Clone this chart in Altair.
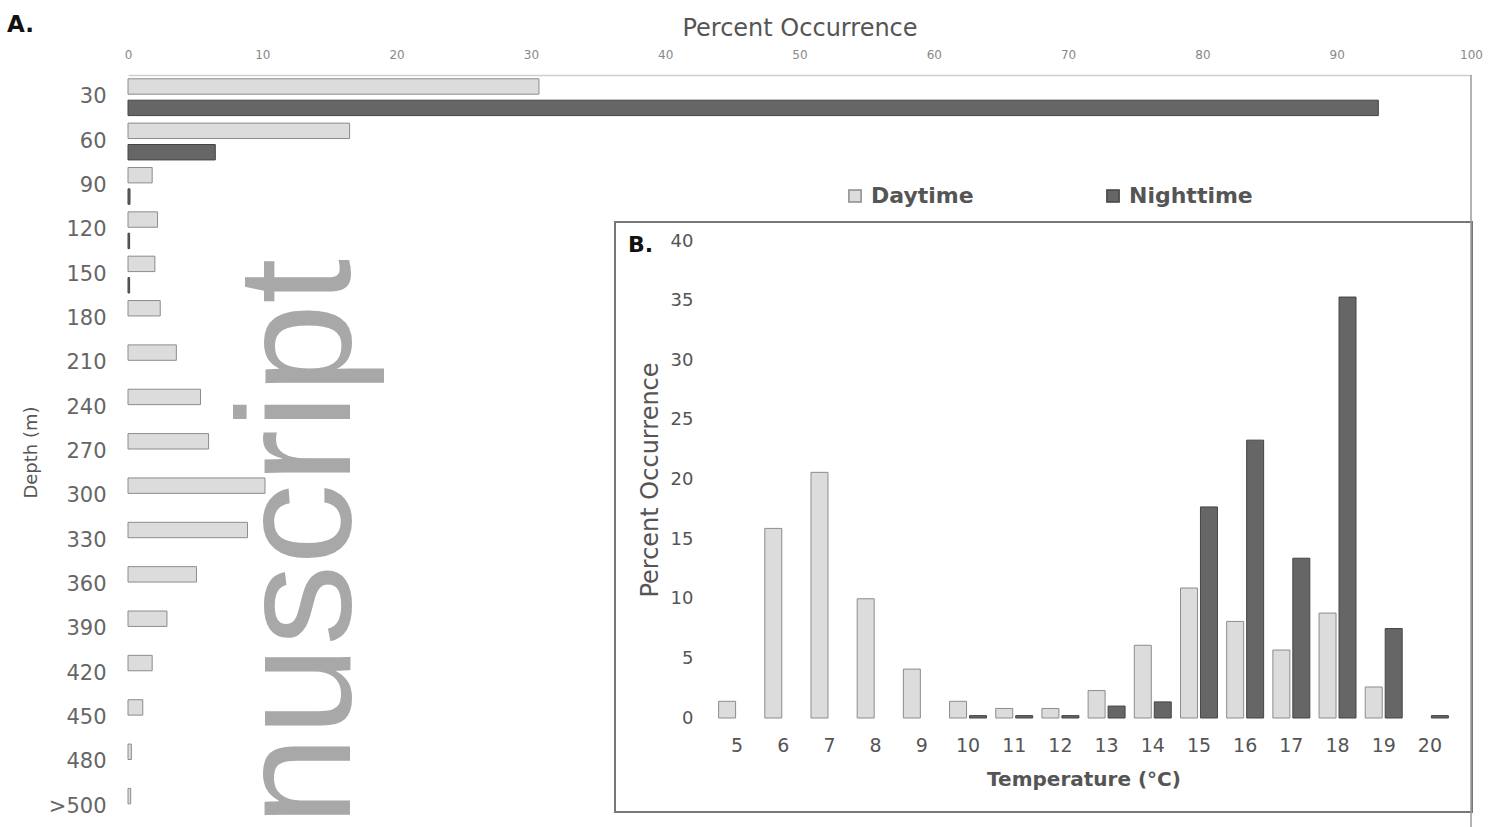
import altair as alt
import pandas as pd

# ---------------- data ----------------
series = ["Daytime", "Nighttime"]

depth_labels = ["30", "60", "90", "120", "150", "180", "210", "240", "270",
                "300", "330", "360", "390", "420", "450", "480", ">500"]
depth_day = [30.6, 16.5, 1.8, 2.2, 2.0, 2.4, 3.6, 5.4, 6.0,
             10.2, 8.9, 5.1, 2.9, 1.8, 1.1, 0.25, 0.2]
depth_night = [93.1, 6.5, 0.15, 0.12, 0.12, 0, 0, 0, 0,
               0, 0, 0, 0, 0, 0, 0, 0]

temp_labels = ["5", "6", "7", "8", "9", "10", "11", "12", "13", "14",
               "15", "16", "17", "18", "19", "20"]
temp_day = [1.4, 15.9, 20.6, 10.0, 4.1, 1.4, 0.8, 0.8, 2.3, 6.1,
            10.9, 8.1, 5.7, 8.8, 2.6, 0]
temp_night = [0, 0, 0, 0, 0, 0.2, 0.2, 0.2, 1.0, 1.35,
              17.7, 23.3, 13.4, 35.3, 7.5, 0.2]

rows_a = []
for d, v1, v2 in zip(depth_labels, depth_day, depth_night):
    rows_a.append({"depth": d, "series": "Daytime", "value": v1})
    rows_a.append({"depth": d, "series": "Nighttime", "value": v2})
df_a = pd.DataFrame(rows_a)
df_a = df_a[df_a["value"] > 0]

rows_b = []
for t, v1, v2 in zip(temp_labels, temp_day, temp_night):
    rows_b.append({"temp": t, "series": "Daytime", "value": v1})
    rows_b.append({"temp": t, "series": "Nighttime", "value": v2})
df_b = pd.DataFrame(rows_b)
df_b = df_b[df_b["value"] > 0]

FONT = "DejaVu Sans"
fill_scale = alt.Scale(domain=series, range=["#dcdcdc", "#666666"])
stroke_scale = alt.Scale(domain=series, range=["#8c8c8c", "#444444"])

# ---------------- panel A ----------------
panel_a = alt.Chart(df_a).mark_bar(strokeWidth=1).encode(
    x=alt.X("value:Q",
            scale=alt.Scale(domain=[0, 100], nice=False),
            axis=alt.Axis(orient="top", values=list(range(0, 101, 10)),
                          title="Percent Occurrence", titleFontSize=24,
                          titleFontWeight="normal", titleColor="#555",
                          titlePadding=8, labelFontSize=12, labelColor="#888",
                          labelPadding=14, ticks=False, tickSize=0,
                          domainColor="#cfcfcf", domainWidth=1.5,
                          grid=False, labelFlush=False)),
    y=alt.Y("depth:N", sort=depth_labels,
            scale=alt.Scale(range=[0, 754], paddingInner=0.17, paddingOuter=0.085),
            axis=alt.Axis(title="Depth (m)", titleFontSize=18,
                          titleFontWeight="normal", titleColor="#555",
                          titlePadding=8, labelFontSize=21, labelColor="#666",
                          labelPadding=22, ticks=False, tickSize=0,
                          domain=False, grid=False)),
    yOffset=alt.YOffset("series:N", sort=series,
                        scale=alt.Scale(paddingInner=0.28)),
    fill=alt.Fill("series:N", scale=fill_scale,
                  legend=alt.Legend(orient="none", legendX=716, legendY=110,
                                    direction="horizontal", title=None,
                                    symbolType="square", symbolSize=150,
                                    labelFontSize=22, labelFont=FONT,
                                    labelFontWeight="bold", labelColor="#555",
                                    columnPadding=128, padding=0,
                                    labelOffset=5)),
    stroke=alt.Stroke("series:N", scale=stroke_scale, legend=None),
)

# ---------------- panel B ----------------
panel_b = alt.Chart(df_b).mark_bar(strokeWidth=1).encode(
    x=alt.X("temp:N", sort=temp_labels,
            scale=alt.Scale(range=[586, 1325], paddingInner=0.2, paddingOuter=0.1),
            axis=alt.Axis(orient="bottom", offset=-109,
                          title="Temperature (°C)", titleFontSize=20,
                          titleFontWeight="bold", titleColor="#555",
                          titlePadding=14, labelFontSize=19, labelColor="#555",
                          labelPadding=18, labelAngle=0, ticks=False,
                          tickSize=0, domain=False, grid=False)),
    xOffset=alt.XOffset("series:N", sort=series,
                        scale=alt.Scale(paddingInner=0.15)),
    y=alt.Y("value:Q",
            scale=alt.Scale(domain=[0, 40], range=[643, 166], nice=False),
            axis=alt.Axis(orient="left", offset=-578,
                          values=list(range(0, 41, 5)),
                          title="Percent Occurrence", titleFontSize=24,
                          titleFontWeight="normal", titleColor="#555",
                          titlePadding=8, labelFontSize=18, labelColor="#555",
                          labelPadding=13, ticks=False, tickSize=0,
                          domain=False, grid=False)),
    fill=alt.Fill("series:N", scale=fill_scale),
    stroke=alt.Stroke("series:N", scale=stroke_scale, legend=None),
)

# ---------------- decorations ----------------
one = pd.DataFrame({"k": [0]})

frame_b = alt.Chart(one).mark_rect(fillOpacity=0, stroke="#777777",
                                   strokeWidth=2).encode(
    x=alt.value(487), x2=alt.value(1344), y=alt.value(147), y2=alt.value(737))

right_line = alt.Chart(one).mark_rule(color="#9a9a9a", strokeWidth=1.5).encode(
    x=alt.value(1343), y=alt.value(0), y2=alt.value(754))

label_a = alt.Chart(one).mark_text(text="A.", font=FONT, fontSize=23,
                                   fontWeight="bold", color="#111",
                                   align="left", baseline="middle").encode(
    x=alt.value(-121), y=alt.value(-50))

label_b = alt.Chart(one).mark_text(text="B.", font=FONT, fontSize=22,
                                   fontWeight="bold", color="#111",
                                   align="left", baseline="middle").encode(
    x=alt.value(500), y=alt.value(170))

watermark = alt.Chart(one).mark_text(text="nuscript", font="Liberation Sans",
                                     fontSize=162, color="#a8a8a8", angle=270,
                                     align="left", baseline="alphabetic").encode(
    x=alt.value(222), y=alt.value(751))

chart = alt.layer(
    frame_b, right_line, panel_a, panel_b, label_a, label_b, watermark
).resolve_scale(
    x="independent", y="independent"
).properties(
    width=1343, height=752,
    autosize=alt.AutoSizeParams(type="none"),
    padding={"left": 128, "top": 75, "right": 18, "bottom": 0},
).configure(
    font=FONT
).configure_view(
    stroke=None
).configure_axis(
    grid=False, labelFont=FONT, titleFont=FONT
)

chart.save("out.html", embed_options={"renderer": "svg", "actions": False})
